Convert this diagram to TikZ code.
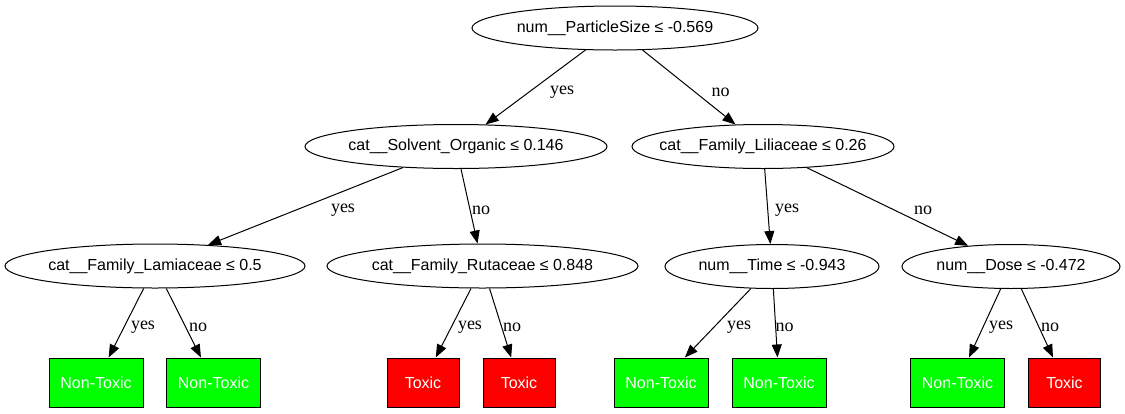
\documentclass[tikz,border=0pt]{standalone}
\usepackage{fontspec}
\setmainfont{Liberation Serif}
\newfontfamily\arialfam{Liberation Sans}
\usetikzlibrary{shapes.geometric,arrows.meta}
\newcommand{\zw}[1]{\makebox[0pt]{#1}}
\begin{document}
\begin{tikzpicture}[x=1pt,y=-1pt,
  split/.style={ellipse,draw=black,line width=1pt,inner sep=0pt,minimum height=44pt,font=\arialfam\fontsize{16}{18}\selectfont},
  leaf/.style={rectangle,draw=black,line width=1pt,minimum height=49pt,text=white,font=\arialfam\fontsize{16}{18}\selectfont},
  good/.style={leaf,fill=green,minimum width=94pt},
  bad/.style={leaf,fill=red,minimum width=72pt},
  edge/.style={draw=black,line width=1pt,-{Triangle[length=13pt,width=10pt]}},
  lbl/.style={font=\fontsize{18}{20}\selectfont,inner sep=0pt}]
\useasboundingbox[fill=white] (0,0) rectangle (1125,413);

\node[split,minimum width=286pt] (root) at (615,28) {\zw{num\_\_ParticleSize ≤ -0.569}};
\node[split,minimum width=302pt] (solv) at (456,146.5) {\zw{cat\_\_Solvent\_Organic ≤ 0.146}};
\node[split,minimum width=262pt] (lili) at (763,146.5) {\zw{cat\_\_Family\_Liliaceae ≤ 0.26}};
\node[split,minimum width=300pt] (lami) at (155,266) {\zw{cat\_\_Family\_Lamiaceae ≤ 0.5}};
\node[split,minimum width=311pt] (ruta) at (482.5,266) {\zw{cat\_\_Family\_Rutaceae ≤ 0.848}};
\node[split,minimum width=214pt] (time) at (772,266.5) {\zw{num\_\_Time ≤ -0.943}};
\node[split,minimum width=218pt] (dose) at (1011,266.5) {\zw{num\_\_Dose ≤ -0.472}};

\node[good] (l1) at (96,382.5) {Non-Toxic};
\node[good] (l2) at (213.5,382.5) {Non-Toxic};
\node[bad] (r1) at (423,382.5) {Toxic};
\node[bad] (r2) at (519,382.5) {Toxic};
\node[good] (t1) at (661,382.5) {Non-Toxic};
\node[good] (t2) at (779,382.5) {Non-Toxic};
\node[good] (d1) at (957.5,382.5) {Non-Toxic};
\node[bad] (d2) at (1064.5,382.5) {Toxic};

\draw[edge] (root) -- (solv);
\draw[edge] (root) -- (lili);
\draw[edge] (solv) -- (lami);
\draw[edge] (solv) -- (ruta);
\draw[edge] (lili) -- (time);
\draw[edge] (lili) -- (dose);
\draw[edge] (lami) -- (l1);
\draw[edge] (lami) -- (l2);
\draw[edge] (ruta) -- (r1);
\draw[edge] (ruta) -- (r2);
\draw[edge] (time) -- (t1);
\draw[edge] (time) -- (t2);
\draw[edge] (dose) -- (d1);
\draw[edge] (dose) -- (d2);

\node[lbl] (y0) at (562,92) {yes};
\node[lbl] (n0) at (720.5,92) {no};
\node[lbl] (y1) at (343,210) {yes};
\node[lbl] (n1) at (481,210) {no};
\node[lbl] (y2) at (787,210) {yes};
\node[lbl] (n2) at (923,210) {no};
\node[lbl] (y3) at (143,327) {yes};
\node[lbl] (n3) at (198,327) {no};
\node[lbl] (y4) at (470,327) {yes};
\node[lbl] (n4) at (512,327) {no};
\node[lbl] (y5) at (739,327) {yes};
\node[lbl] (n5) at (784.5,327) {no};
\node[lbl] (y6) at (1001,327) {yes};
\node[lbl] (n6) at (1050,327) {no};
\end{tikzpicture}
\end{document}
